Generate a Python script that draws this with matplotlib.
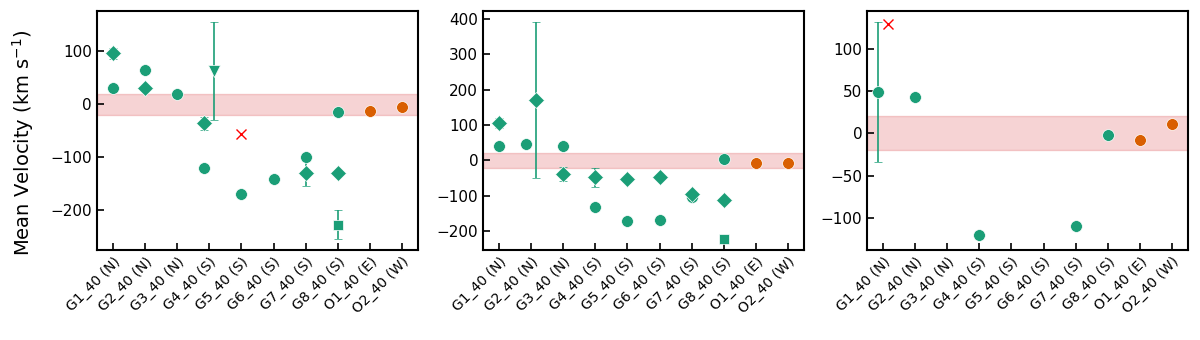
import numpy as np
from matplotlib import pyplot as plt

labels = ['G1_40 (N)', 'G2_40 (N)', 'G3_40 (N)', 'G4_40 (S)', 'G5_40 (S)',
          'G6_40 (S)', 'G7_40 (S)', 'G8_40 (S)', 'O1_40 (E)', 'O2_40 (W)']

green = '#1b9e77'
orange = '#d95f02'

# panel 1
p1_circ_x = [0, 1, 2, 3, 4, 5, 6, 7]
p1_circ_dx = [0, 0, 0, -0.15, 0, 0, 0, 0]
p1_circ_y = [30, 65, 19, -121, -170, -142, -100, -14]
p1_circ_e = [0, 0, 0, 5, 0, 0, 5, 0]
p1_diam_x = [0, 1, 3, 6, 7]
p1_diam_dx = [0, 0, -0.15, 0, 0]
p1_diam_y = [96, 30, -36, -131, -131]
p1_diam_e = [11, 0, 12, 23, 0]
p1_tri_x = [3]
p1_tri_dx = [0.15]
p1_tri_y = [63]
p1_tri_e = [93]
p1_sq_x = [7]
p1_sq_y = [-228]
p1_sq_e = [27]
p1_cross_x = [4]
p1_cross_dx = [0]
p1_cross_y = [-57]
p1_out_x = [8, 9]
p1_out_y = [-13, -5]

# panel 2
p2_circ_x = [0, 1, 2, 3, 4, 5, 6, 7]
p2_circ_dx = [0, -0.15, 0, 0, 0, 0, 0, 0]
p2_circ_y = [42, 47, 42, -131, -171, -167, -103, 5]
p2_circ_e = [0, 0, 8, 8, 0, 0, 0, 0]
p2_diam_x = [0, 1, 2, 3, 4, 5, 6, 7]
p2_diam_dx = [0, 0.15, 0, 0, 0, 0, 0, 0]
p2_diam_y = [106, 171, -39, -48, -52, -48, -94, -113]
p2_diam_e = [13, 221, 20, 28, 0, 0, 0, 0]
p2_sq_x = [7]
p2_sq_y = [-222]
p2_sq_e = [0]
p2_out_x = [8, 9]
p2_out_y = [-6, -7]

# panel 3
p3_circ_x = [0, 1, 3, 6, 7]
p3_circ_dx = [-0.15, 0, 0, 0, 0]
p3_circ_y = [49, 42.5, -120, -110, -2]
p3_circ_e = [83, 0, 5, 0, 5]
p3_cross_x = [0]
p3_cross_dx = [0.15]
p3_cross_y = [129]
p3_out_x = [8, 9]
p3_out_y = [-8, 11]

band = 20

fig = plt.figure(figsize=(12, 3.4), dpi=100)
lefts = [0.0808, 0.4025, 0.7225]
axes = [fig.add_axes([l, 0.265, 0.2675, 0.703]) for l in lefts]


def pts(ax, x, dx, y, e, marker, ms):
    xx = np.array(x) + np.array(dx)
    ax.errorbar(xx, y, yerr=e, fmt=marker, color=green, ms=ms,
                mec='white', mew=0.5, capsize=3, elinewidth=1.2, capthick=1.2,
                ls='none', zorder=3)


ax = axes[0]
pts(ax, p1_circ_x, p1_circ_dx, p1_circ_y, p1_circ_e, 'o', 8.5)
pts(ax, p1_diam_x, p1_diam_dx, p1_diam_y, p1_diam_e, 'D', 8)
pts(ax, p1_tri_x, p1_tri_dx, p1_tri_y, p1_tri_e, 'v', 9)
pts(ax, p1_sq_x, [0], p1_sq_y, p1_sq_e, 's', 7.5)
ax.plot(np.array(p1_cross_x) + np.array(p1_cross_dx), p1_cross_y, 'x', color='red', ms=6.5, zorder=3)
ax.plot(p1_out_x, p1_out_y, 'o', color=orange, ms=8.5, mec='white', mew=0.5, zorder=3)

ax = axes[1]
pts(ax, p2_circ_x, p2_circ_dx, p2_circ_y, p2_circ_e, 'o', 8.5)
pts(ax, p2_diam_x, p2_diam_dx, p2_diam_y, p2_diam_e, 'D', 8)
pts(ax, p2_sq_x, [0], p2_sq_y, p2_sq_e, 's', 7.5)
ax.plot(p2_out_x, p2_out_y, 'o', color=orange, ms=8.5, mec='white', mew=0.5, zorder=3)

ax = axes[2]
pts(ax, p3_circ_x, p3_circ_dx, p3_circ_y, p3_circ_e, 'o', 8.5)
ax.plot(np.array(p3_cross_x) + np.array(p3_cross_dx), p3_cross_y, 'x', color='red', ms=6.5, zorder=3)
ax.plot(p3_out_x, p3_out_y, 'o', color=orange, ms=8.5, mec='white', mew=0.5, zorder=3)

for ax in axes:
    ax.axhspan(-band, band, color='tab:red', alpha=0.2, zorder=1)
    ax.set_xlim(-0.5, 9.5)
    ax.set_xticks(range(len(labels)))
    ax.set_xticklabels(labels, rotation=45, ha='right', rotation_mode='anchor', fontsize=10)
    ax.tick_params(direction='in', length=5, width=1.2, labelsize=11)
    ax.tick_params(axis='x', labelsize=10)
    for s in ax.spines.values():
        s.set_linewidth(1.5)

axes[0].set_ylabel('Mean Velocity (km s$^{-1}$)', fontsize=14)
axes[0].yaxis.set_label_coords(-0.19, 0.45)

plt.savefig('out.png')
